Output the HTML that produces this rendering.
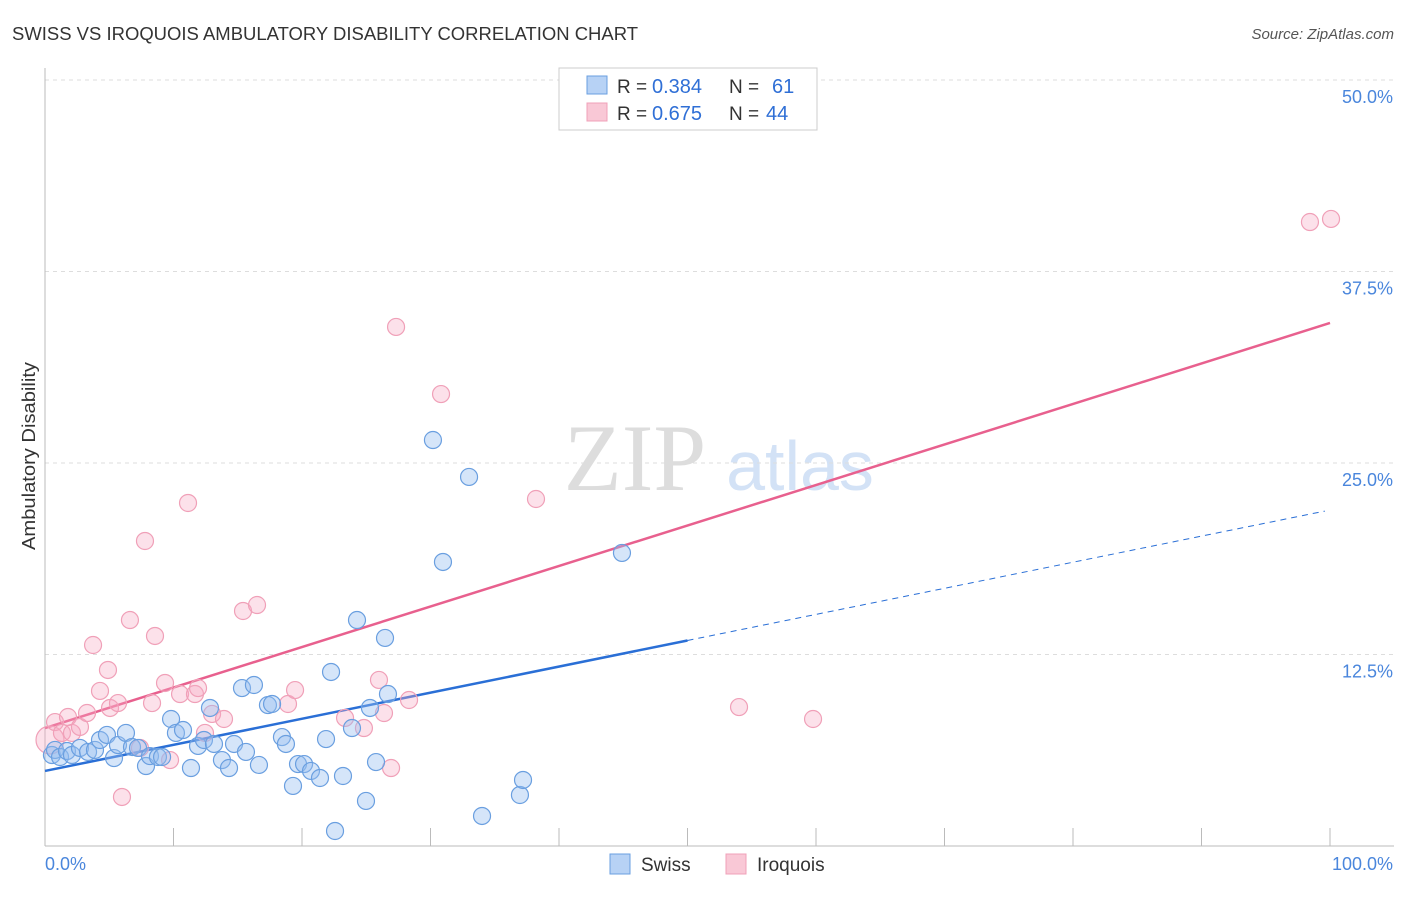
<!DOCTYPE html>
<html><head><meta charset="utf-8"><style>
body{margin:0;background:#fff;font-family:"Liberation Sans",sans-serif}
</style></head><body>
<svg width="1406" height="892" xmlns="http://www.w3.org/2000/svg" id="chart">
<text x="12" y="40" font-size="18" fill="#333" textLength="626" lengthAdjust="spacingAndGlyphs">SWISS VS IROQUOIS AMBULATORY DISABILITY CORRELATION CHART</text>
<text x="1394" y="39" font-size="15" fill="#555" font-style="italic" text-anchor="end">Source: ZipAtlas.com</text>
<text transform="translate(35,456) rotate(-90)" font-size="18" fill="#333" text-anchor="middle" textLength="188" lengthAdjust="spacingAndGlyphs">Ambulatory Disability</text>
<g>
<text x="635" y="490" font-size="95" fill="#ddd" font-family="Liberation Serif,serif" text-anchor="middle">ZIP</text>
<text x="800" y="490" font-size="70" fill="#d3e2f6" text-anchor="middle">atlas</text>
</g>
<g id="grid"></g><g id="axes"></g><g id="trends"></g><g id="points"></g>
<g>
<rect x="559" y="68" width="258" height="62" fill="#fff" stroke="#ccc"/>
<rect x="587" y="76" width="20" height="18" fill="#b7d2f5" stroke="#6a9fe0"/>
<rect x="587" y="103" width="20" height="18" fill="#f9c8d6" stroke="#f0a0b8"/>
<text x="617" y="93" font-size="19" fill="#333">R =</text>
<text x="652" y="93" font-size="20" fill="#2f6fd6">0.384</text>
<text x="729" y="93" font-size="19" fill="#333">N =</text>
<text x="772" y="93" font-size="20" fill="#2f6fd6">61</text>
<text x="617" y="120" font-size="19" fill="#333">R =</text>
<text x="652" y="120" font-size="20" fill="#2f6fd6">0.675</text>
<text x="729" y="120" font-size="19" fill="#333">N =</text>
<text x="766" y="120" font-size="20" fill="#2f6fd6">44</text>
</g>
<g>
<rect x="610" y="854" width="20" height="20" fill="#b7d2f5" stroke="#6a9fe0"/>
<text x="641" y="871" font-size="19" fill="#333">Swiss</text>
<rect x="726" y="854" width="20" height="20" fill="#f9c8d6" stroke="#f0a0b8"/>
<text x="757" y="871" font-size="19" fill="#333">Iroquois</text>
</g>
</svg>
<script>
const yTicks=[12.5,25,37.5,50];
const yTickLabels=["12.5%","25.0%","37.5%","50.0%"];
const xTickLabels=["0.0%","100.0%"];
const swissX=[0.54,0.78,1.17,1.71,2.10,2.72,3.35,3.89,4.28,4.82,5.37,5.68,6.30,6.77,7.24,7.86,8.17,8.79,9.11,9.81,10.19,10.74,11.36,11.91,12.37,12.84,13.15,13.77,14.32,14.71,15.33,15.64,16.26,16.65,17.35,17.67,18.44,18.75,19.30,19.69,20.16,20.70,21.40,21.87,22.26,22.57,23.19,23.89,24.28,24.98,25.29,25.76,26.46,26.69,30.19,30.97,33.00,34.01,36.96,37.20,44.90];
const swissY=[5.94,6.27,5.81,6.20,5.94,6.40,6.14,6.27,6.92,7.25,5.74,6.59,7.38,6.46,6.40,5.22,5.87,5.81,5.81,8.29,7.38,7.57,5.09,6.53,6.92,9.01,6.66,5.61,5.09,6.66,10.31,6.14,10.51,5.29,9.20,9.27,7.11,6.66,3.92,5.35,5.35,4.90,4.44,6.98,11.36,0.98,4.57,7.70,14.75,2.94,9.01,5.48,13.58,9.92,26.50,18.54,24.09,1.96,3.33,4.31,19.13];
const iroX=[0.39,0.78,1.32,1.79,2.10,2.72,3.27,3.74,4.28,4.90,5.06,5.68,5.99,6.61,7.39,7.78,8.33,8.56,9.34,9.73,10.51,11.13,11.67,11.91,12.45,13.00,13.93,15.41,16.50,18.91,19.46,23.35,24.82,25.99,26.38,26.93,27.32,28.33,30.82,38.21,54.01,59.77,98.44,100.08];
const iroY=[6.92,8.09,7.38,8.42,7.38,7.77,8.68,13.12,10.12,11.49,9.01,9.33,3.20,14.75,6.40,19.91,9.33,13.71,10.64,5.61,9.92,22.39,9.92,10.31,7.38,8.62,8.29,15.34,15.73,9.27,10.18,8.36,7.70,10.84,8.68,5.09,33.88,9.53,29.50,22.65,9.07,8.29,40.73,40.93];
const swissTrend=[4.90,21.93];
const iroTrend=[7.70,34.14];
const NS="http://www.w3.org/2000/svg";
const X=v=>45+v*12.85, Y=v=>846-v*15.32;
function mk(tag,attrs,parent){const e=document.createElementNS(NS,tag);for(const k in attrs)e.setAttribute(k,attrs[k]);document.getElementById(parent).appendChild(e);return e;}
yTicks.forEach((t,i)=>{
 const g=mk('line',{x1:45,x2:1394,y1:Y(t),y2:Y(t),stroke:'#ddd','stroke-dasharray':'4,4'},'grid');
 
 
 const l=mk('text',{x:1393,y:Y(t)+23,'font-size':18,fill:'#4a86dc','text-anchor':'end'},'grid');
 l.textContent=yTickLabels[i];
 
 
});
mk('line',{x1:45,x2:45,y1:68,y2:846,stroke:'#bbb'},'axes');
mk('line',{x1:45,x2:1394,y1:846,y2:846,stroke:'#bbb'},'axes');
for(let i=1;i<=10;i++){mk('line',{x1:X(i*10),x2:X(i*10),y1:828,y2:846,stroke:'#bbb'},'axes');}
const xl0=mk('text',{x:45,y:870,'font-size':18,fill:'#4a86dc'},'axes');xl0.textContent=xTickLabels[0];


const xl1=mk('text',{x:1393,y:870,'font-size':18,fill:'#4a86dc','text-anchor':'end'},'axes');xl1.textContent=xTickLabels[1];


const sf=v=>swissTrend[0]+(swissTrend[1]-swissTrend[0])*v/100;
const pf=v=>iroTrend[0]+(iroTrend[1]-iroTrend[0])*v/100;
let t1=mk('line',{x1:X(0),y1:Y(sf(0)),x2:X(50),y2:Y(sf(50)),stroke:'#2a6fd6','stroke-width':2.5},'trends');


let t2=mk('line',{x1:X(50),y1:Y(sf(50)),x2:X(99.6),y2:Y(sf(99.6)),stroke:'#2a6fd6','stroke-width':1,'stroke-dasharray':'6,5'},'trends');


let t3=mk('line',{x1:X(0),y1:Y(pf(0)),x2:X(100),y2:Y(pf(100)),stroke:'#e8608e','stroke-width':2.5},'trends');


iroX.forEach((x,i)=>{
 const c=mk('circle',{cx:X(x),cy:Y(iroY[i]),r:i==0?14:8.5,fill:'rgba(247,170,195,0.35)',stroke:'#f0a0b8','stroke-width':1.2},'points');
 
 
});
swissX.forEach((x,i)=>{
 const c=mk('circle',{cx:X(x),cy:Y(swissY[i]),r:8.5,fill:'rgba(150,190,240,0.4)',stroke:'#6a9fe0','stroke-width':1.2},'points');
 
 
});
</script>
</body></html>
